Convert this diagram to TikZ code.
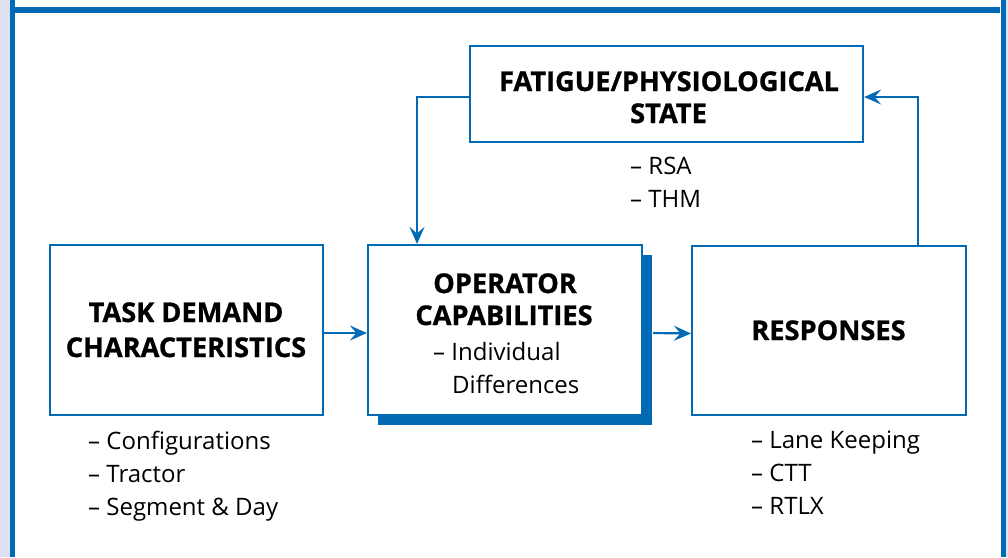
\documentclass[tikz,border=0pt]{standalone}
\usepackage{fontspec}
\setmainfont{Open Sans}[BoldFeatures={FakeBold=0.9}]
\usetikzlibrary{arrows.meta,shadows}
\definecolor{frameblue}{RGB}{0,106,180}
\definecolor{edgegray}{RGB}{222,226,240}
\begin{document}
\begin{tikzpicture}[x=1pt,y=-1pt,
  box/.style={draw=frameblue,line width=2.2pt,fill=white,inner sep=0pt,rectangle},
  title/.style={font=\bfseries\fontsize{27.2}{32}\selectfont,anchor=base,inner sep=0pt},
  item/.style={font=\fontsize{24}{28}\selectfont,anchor=base west,inner sep=0pt},
  link/.style={draw=frameblue,line width=2.2pt,-{Stealth[length=17pt,width=15pt,inset=6.5pt]}}]

\useasboundingbox (0,0) rectangle (1008,557);

% page frame
\fill[edgegray] (0,0) rectangle (10,557);
\fill[edgegray] (1006,0) rectangle (1008,557);
\fill[frameblue] (10,0) rectangle (15,557);
\fill[frameblue] (10,7) rectangle (1000,13);
\fill[frameblue] (1001,0) rectangle (1006,557);

% boxes
\node[box,minimum width=273pt,minimum height=170pt] (task) at (186.5,330) {};
\node[box,minimum width=274pt,minimum height=170pt,
      general shadow={fill=frameblue,shadow xshift=10pt,shadow yshift=-10pt}] (op) at (505,330) {};
\node[box,minimum width=274pt,minimum height=169pt] (resp) at (829,330.5) {};
\node[box,minimum width=393pt,minimum height=96pt] (fat) at (666.5,94) {};

% titles
\node[title] (fat1) at (669,91) {FATIGUE/PHYSIOLOGICAL};
\node[title] (fat2) at (668.5,123) {STATE};
\node[title] (task1) at (186,322) {TASK DEMAND};
\node[title] (task2) at (186,357) {CHARACTERISTICS};
\node[title] (op1) at (505,293) {OPERATOR};
\node[title] (op2) at (504,325) {CAPABILITIES};
\node[title] (resp1) at (828.5,340) {RESPONSES};

% item lists
\node[item] (opi1) at (433,360) {– Individual};
\node[item] (opi2) at (452,393) {Differences};
\node[item] (fati1) at (630,174) {– RSA};
\node[item] (fati2) at (630,207) {– THM};
\node[item] (taski1) at (88,449) {– Configurations};
\node[item] (taski2) at (88,482) {– Tractor};
\node[item] (taski3) at (88,515) {– Segment \& Day};
\node[item] (respi1) at (751,448) {– Lane Keeping};
\node[item] (respi2) at (751,481) {– CTT};
\node[item] (respi3) at (751,514) {– RTLX};

% connectors
\draw[link] ([yshift=-3pt]task.east) -- ([yshift=-3pt]op.west);
\draw[link] ([xshift=10pt,yshift=-3pt]op.east) -- ([yshift=-3pt]resp.west);
\draw[link] ([yshift=-3pt]fat.west) -| ([xshift=-88pt]op.north);
\draw[link] ([xshift=89pt]resp.north) |- ([yshift=-3pt]fat.east);
\end{tikzpicture}
\end{document}
